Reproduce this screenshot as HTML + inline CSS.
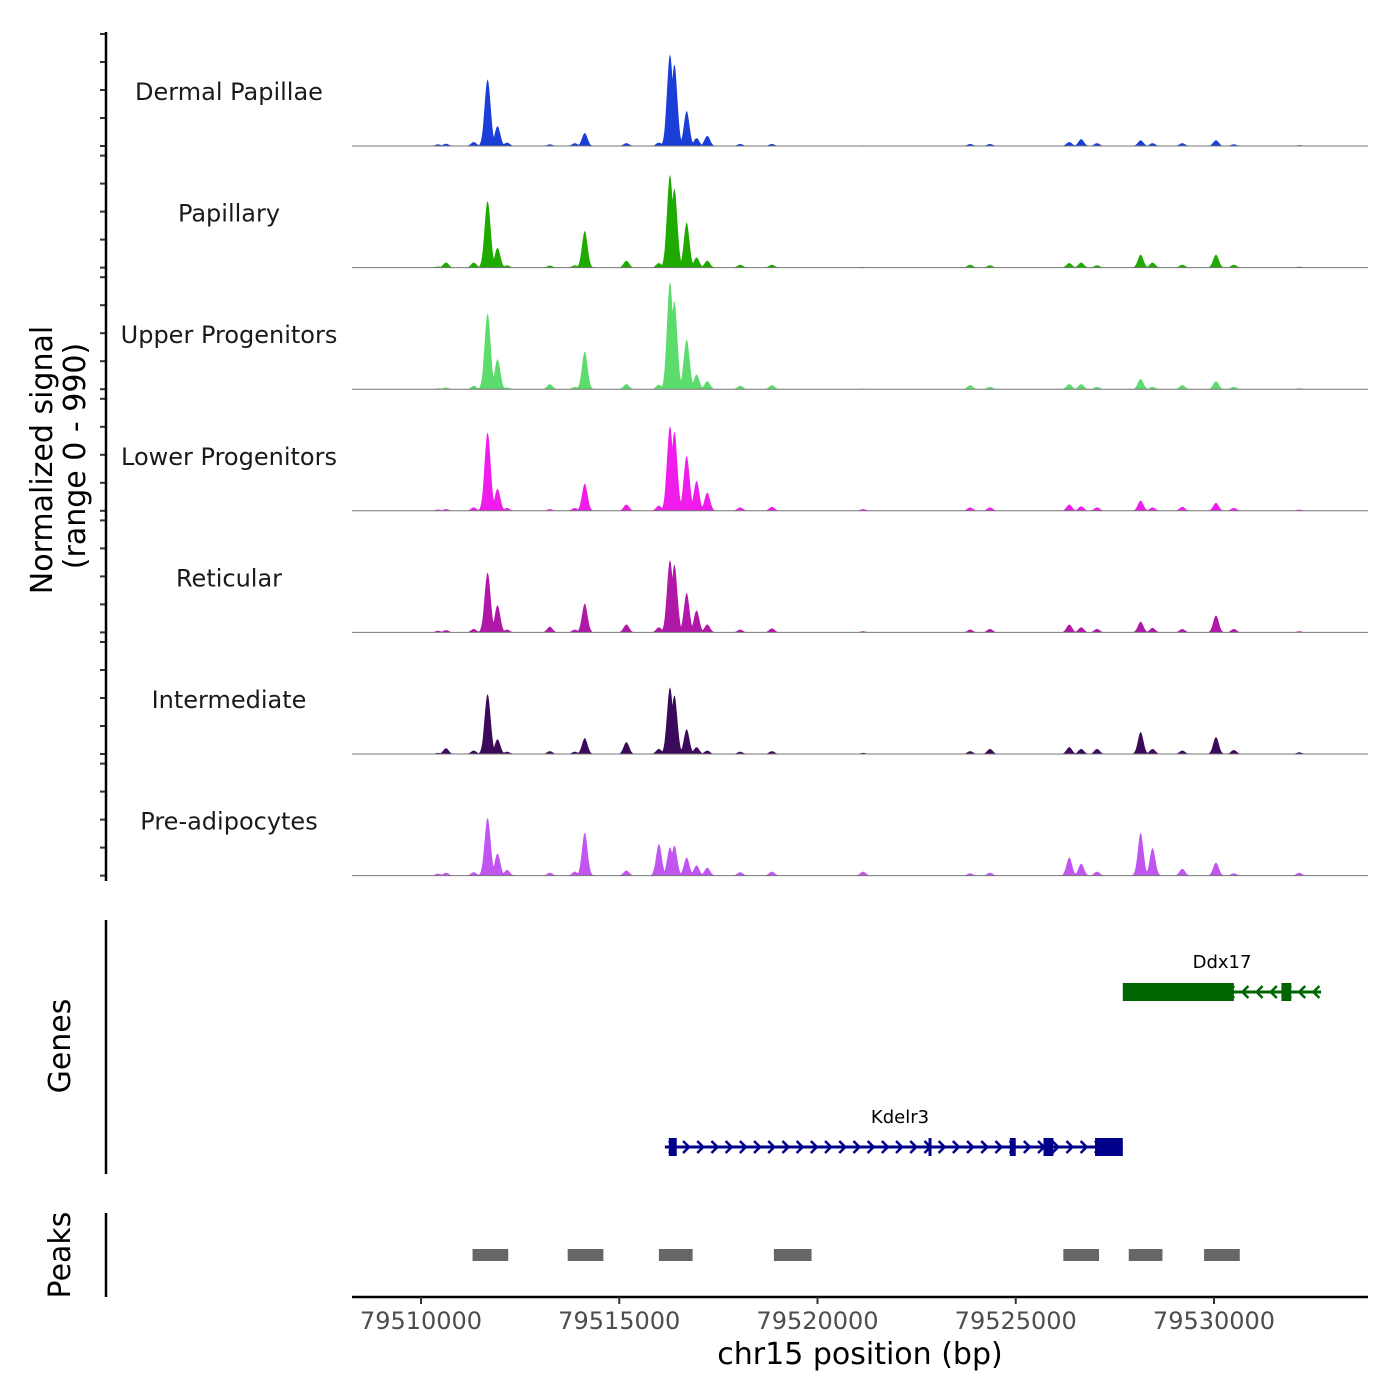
<!DOCTYPE html>
<html><head><meta charset="utf-8"><style>
html,body{margin:0;padding:0;background:#fff}
svg{display:block;font-family:"DejaVu Sans","Liberation Sans",sans-serif}
</style></head><body>
<svg id="chart" width="1400" height="1400" viewBox="0 0 1400 1400" xmlns="http://www.w3.org/2000/svg">
<g id="tracks"></g>
<g id="yaxis"></g>
<text transform="translate(52,460) rotate(-90)" text-anchor="middle" font-size="30" fill="#000">Normalized signal</text>
<text transform="translate(85,456) rotate(-90)" text-anchor="middle" font-size="30" fill="#000">(range 0 - 990)</text>
<line x1="106" y1="920" x2="106" y2="1174" stroke="#000" stroke-width="2.5"/>
<text transform="translate(70,1046) rotate(-90)" text-anchor="middle" font-size="30">Genes</text>
<line x1="106" y1="1213" x2="106" y2="1297" stroke="#000" stroke-width="2.5"/>
<text transform="translate(70,1255) rotate(-90)" text-anchor="middle" font-size="30">Peaks</text>
<g id="genes"></g>
<g id="peaks"></g>
<g id="xaxis"></g>
<text x="860" y="1364" text-anchor="middle" font-size="30">chr15 position (bp)</text>
</svg>
<script>
// ---- data ----
const trackNames = ["Dermal Papillae","Papillary","Upper Progenitors","Lower Progenitors","Reticular","Intermediate","Pre-adipocytes"];
const trackColors = ["#1a3fd9","#1faa00","#5cdc6c","#f01cec","#b019a8","#3b0a5a","#c055f2"];
const peakCenters = [79510430,79510630,79511330,79511680,79511930,79512170,79513250,79513880,79514130,79515180,79516000,79516280,79516390,79516700,79516950,79517220,79518050,79518850,79521150,79523850,79524350,79526350,79526650,79527050,79528150,79528450,79529200,79530050,79530500,79532150];
const dermalPapillae =  [15,20,35,590,175,30,15,25,115,25,30,810,720,310,70,90,18,18,5,18,18,35,60,25,50,25,25,50,15,8];
const papillary =       [10,45,45,590,175,20,18,20,325,60,40,820,700,400,90,60,25,25,5,25,20,40,45,20,115,45,25,115,25,8];
const upperProgenitors= [8,15,30,670,265,15,45,20,335,45,40,950,780,440,130,70,30,35,5,35,20,45,45,20,90,20,35,70,20,8];
const lowerProgenitors= [12,15,30,695,195,25,15,25,240,55,45,750,700,485,265,160,30,35,15,30,30,55,40,30,90,30,35,70,25,10];
const reticular =       [15,20,30,530,240,25,50,25,255,70,45,640,600,350,195,70,25,35,10,25,30,70,45,30,95,40,30,150,30,10];
const intermediate =    [10,50,30,530,130,20,25,20,140,105,45,590,520,220,60,30,20,25,10,25,45,60,45,45,195,45,30,150,35,15];
const preAdipocytes =   [18,25,30,510,195,50,25,35,380,45,280,250,265,160,90,70,30,35,35,20,25,160,105,35,380,245,60,115,20,25];
const trackValues = [dermalPapillae,papillary,upperProgenitors,lowerProgenitors,reticular,intermediate,preAdipocytes];
const xTicks = [79510000,79515000,79520000,79525000,79530000];
const peakStarts = [79511300,79513700,79516000,79518900,79526200,79527850,79529750];
const peakEndsArr = [79512200,79514600,79516850,79519850,79527100,79528700,79530650];
const kdelr3Exons = [[79516250,79516450],[79522800,79522860],[79524850,79525000],[79525700,79525950],[79527000,79527700]];
const ddx17Exons = [[79527700,79530500],[79531700,79531950]];

const NS="http://www.w3.org/2000/svg";
const X0=79510000, PX0=421, PXPER=793/20000;
function xs(bp){return PX0+(bp-X0)*PXPER;}
const YMAX=990, TRACKH=112, TOP0=34, STEP=121.6;
function ys(v,base){return base - v/YMAX*TRACKH;}
function mk(tag,attrs,parent){const e=document.createElementNS(NS,tag);for(const k in attrs)e.setAttribute(k,attrs[k]);parent.appendChild(e);return e;}
const tracks=document.getElementById('tracks'), yaxis=document.getElementById('yaxis');
const BPMIN=79508300, BPMAX=79533850;
trackNames.forEach((name,i)=>{
  const base=TOP0+TRACKH+i*STEP;
  const g=mk('g',{},tracks);
  
  
  const vals=trackValues[i];
  let d='M'+xs(BPMIN)+','+base;
  for(let bp=BPMIN;bp<=BPMAX;bp+=20){
    let v=0;
    for(let k=0;k<peakCenters.length;k++){
      const s = vals[k]>400?75:70;
      const dx=(bp-peakCenters[k])/s; v=Math.max(v,vals[k]*Math.exp(-0.5*dx*dx));
    }
    d+='L'+xs(bp).toFixed(1)+','+ys(Math.min(v,YMAX),base).toFixed(1);
  }
  d+='L'+xs(BPMAX)+','+base+'Z';
  const p=mk('path',{d:d,fill:trackColors[i],stroke:'none'},g);
  
  
  const bl=mk('line',{x1:352,x2:1368,y1:base,y2:base,stroke:'#777','stroke-width':1},g);
  
  
  const t=mk('text',{x:229,y:base-46,'text-anchor':'middle','font-size':24,fill:'#1a1a1a'},g);
  t.textContent=name;
  
  
  for(let k=0;k<=4;k++){
    const ty=base-TRACKH+k*28;
    const tk=mk('line',{x1:100,x2:106,y1:ty,y2:ty,stroke:'#333','stroke-width':2},yaxis);
    
    
  }
});
const ya=mk('line',{x1:106,x2:106,y1:32,y2:881,stroke:'#000','stroke-width':2.5},yaxis);



const genes=document.getElementById('genes');
function drawGene(name,start,end,exons,y,color,dir,labelX){
  const g=mk('g',{},genes);
  
  
  mk('line',{x1:xs(start),x2:xs(end),y1:y,y2:y,stroke:color,'stroke-width':3},g);
  for(let x=xs(start)+8;x<xs(end)-4;x+=14.2){
    const a=dir>0?`M${x-4},${y-6}L${x+2},${y}L${x-4},${y+6}`:`M${x+4},${y-6}L${x-2},${y}L${x+4},${y+6}`;
    mk('path',{d:a,stroke:color,'stroke-width':2.5,fill:'none'},g);
  }
  exons.forEach(e=>{
    const r=mk('rect',{x:xs(e[0]),y:y-9,width:Math.max(3,xs(e[1])-xs(e[0])),height:18,fill:color},g);
    
    
  });
  const t=mk('text',{x:labelX,y:y-24,'text-anchor':'middle','font-size':18},g);
  t.textContent=name;
  
  
}
drawGene('Ddx17',79527700,79532700,ddx17Exons,992,'#006400',-1,1222);
drawGene('Kdelr3',79516150,79527700,kdelr3Exons,1147,'#00008b',1,900);

const peaks=document.getElementById('peaks');
peakStarts.forEach((s,i)=>{
  const r=mk('rect',{x:xs(s),y:1249,width:xs(peakEndsArr[i])-xs(s),height:12,fill:'#666'},peaks);
  
  
});

const xa=document.getElementById('xaxis');
const al=mk('line',{x1:352,x2:1368,y1:1297,y2:1297,stroke:'#000','stroke-width':2.5},xa);


xTicks.forEach(v=>{
  const x=xs(v);
  const tk=mk('line',{x1:x,x2:x,y1:1297,y2:1304,stroke:'#333','stroke-width':2},xa);
  
  
  const t=mk('text',{x:x,y:1329,'text-anchor':'middle','font-size':24,fill:'#4d4d4d'},xa);
  t.textContent=v;
  
  
});
</script>
</body></html>
